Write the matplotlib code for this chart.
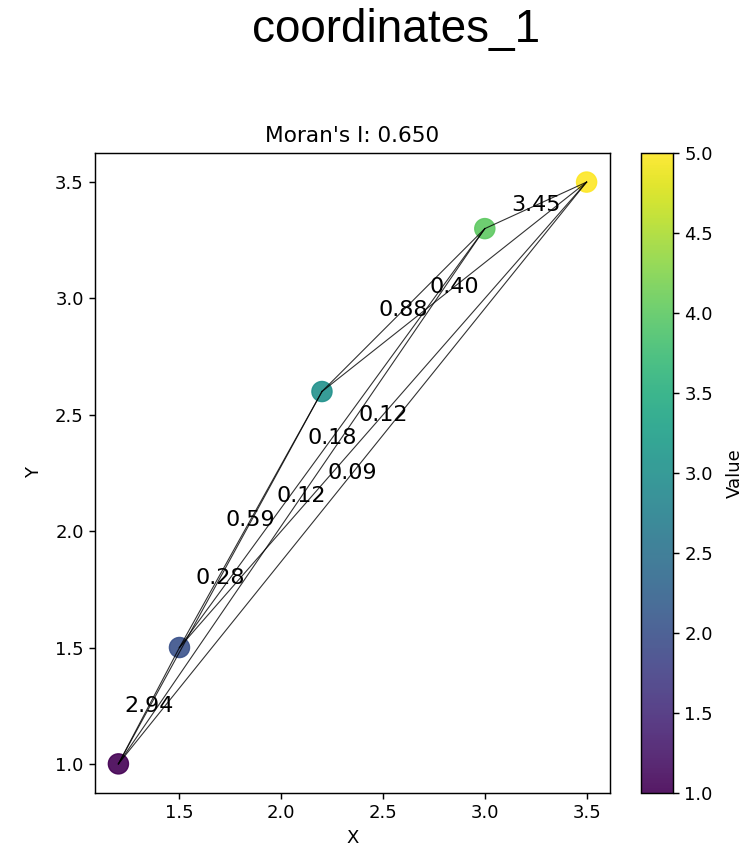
import matplotlib
matplotlib.use("Agg")
import matplotlib.pyplot as plt
from matplotlib.colors import Normalize

# point coordinates and attribute values
xs = [1.2, 1.5, 2.2, 3.0, 3.5]
ys = [1.0, 1.5, 2.6, 3.3, 3.5]
values = [1, 2, 3, 4, 5]

# edges (index pairs) and their spatial weights
edge_from = [0, 0, 0, 0, 1, 1, 1, 2, 2, 3]
edge_to = [1, 2, 3, 4, 2, 3, 4, 3, 4, 4]
weights = [2.94, 0.28, 0.12, 0.09, 0.59, 0.18, 0.12, 0.88, 0.40, 3.45]

morans_i = 0.650
name = "coordinates_1"

# reference looks like it was rendered at ~130 dpi, so scale the defaults up
k = 1.3
plt.rcParams.update({
    "font.size": 10 * k,
    "axes.linewidth": 0.8 * k,
    "xtick.major.size": 3.5 * k,
    "ytick.major.size": 3.5 * k,
    "xtick.major.width": 0.8 * k,
    "ytick.major.width": 0.8 * k,
})

fig = plt.figure(figsize=(7.48, 8.49), dpi=100)
ax = fig.add_axes([0.127, 0.066, 0.6885, 0.7538])
cax = fig.add_axes([0.857, 0.066, 0.0428, 0.7538])

norm = Normalize(vmin=min(values), vmax=max(values))
sc = ax.scatter(xs, ys, c=values, cmap="viridis", norm=norm, s=210, alpha=0.9, zorder=1)

for i, j, w in zip(edge_from, edge_to, weights):
    ax.plot([xs[i], xs[j]], [ys[i], ys[j]], color="black", alpha=0.8, linewidth=0.8, zorder=2)
    ax.text((xs[i] + xs[j]) / 2, (ys[i] + ys[j]) / 2, f"{w:.2f}",
            ha="center", va="center", fontsize=12.3 * k, zorder=3)

ax.set_title(f"Moran's I: {morans_i:.3f}", fontsize=12 * k, pad=6 * k)
ax.set_xlabel("X", labelpad=5)
ax.set_ylabel("Y", labelpad=9)

cb = fig.colorbar(sc, cax=cax)
cb.set_label("Value", labelpad=9)

fig.text(0.529, 0.965, name, ha="center", va="center", fontsize=33,
         family=["Liberation Sans", "DejaVu Sans"])

fig.savefig("out.png", dpi=100)
